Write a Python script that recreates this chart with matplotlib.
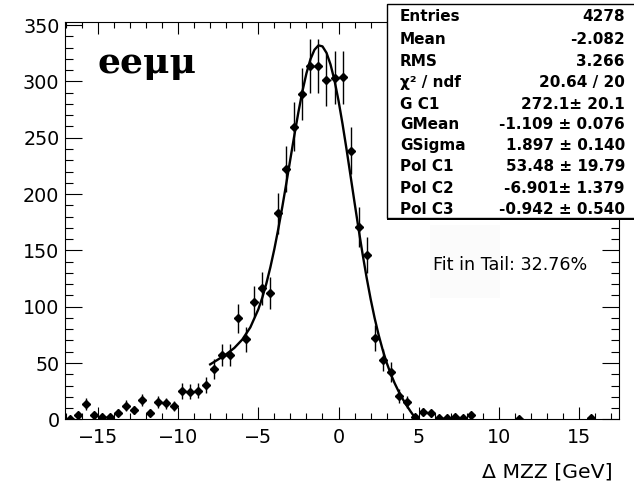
import matplotlib
matplotlib.use('Agg')
import matplotlib.pyplot as plt
from matplotlib.patches import Rectangle
from matplotlib.ticker import MultipleLocator

# histogram bins (centres, 0.5 GeV wide) and contents
bin_x = [-16.75, -16.25, -15.75, -15.25, -14.75, -14.25, -13.75, -13.25, -12.75, -12.25,
         -11.75, -11.25, -10.75, -10.25, -9.75, -9.25, -8.75, -8.25, -7.75, -7.25,
         -6.75, -6.25, -5.75, -5.25, -4.75, -4.25, -3.75, -3.25, -2.75, -2.25,
         -1.75, -1.25, -0.75, -0.25, 0.25, 0.75, 1.25, 1.75, 2.25, 2.75,
         3.25, 3.75, 4.25, 4.75, 5.25, 5.75, 6.25, 6.75, 7.25, 7.75,
         8.25, 11.25, 15.75]
counts = [0.3, 3.8, 13.6, 3.8, 1.8, 2.4, 5.9, 12.1, 8.3, 17.2,
          5.9, 15.7, 14.2, 11.8, 25.2, 24.6, 25.5, 30.5, 44.7, 57.1,
          57.1, 89.7, 71.0, 104.5, 116.3, 112.5, 183.0, 222.3, 259.9, 288.9,
          313.8, 313.8, 301.3, 303.4, 303.7, 238.5, 171.0, 146.0, 71.9, 52.7,
          42.3, 21.0, 15.1, 1.8, 6.8, 5.3, 0.9, 1.5, 2.4, 0.9,
          3.8, 0.3, 1.0]
errors = [0.7, 2.6, 5.0, 2.6, 1.8, 2.1, 3.3, 4.7, 3.9, 5.6,
          3.3, 5.3, 5.1, 4.6, 6.8, 6.7, 6.8, 7.5, 9.0, 10.2,
          10.2, 12.8, 11.4, 13.8, 14.6, 14.3, 18.3, 20.1, 21.8, 22.9,
          23.9, 23.9, 23.4, 23.5, 23.5, 20.8, 17.7, 16.3, 11.4, 9.8,
          8.8, 6.2, 5.2, 1.8, 3.5, 3.1, 1.3, 1.7, 2.1, 1.3,
          2.6, 0.7, 1.4]

# fitted curve (gauss + pol2)
fit_x = [-8, -7.5, -7, -6.5, -6, -5.5, -5, -4.75, -4.5, -4.25, -4, -3.75, -3.5, -3.25,
         -3, -2.75, -2.5, -2.25, -2, -1.75, -1.5, -1.25, -1, -0.75, -0.5, -0.25, 0,
         0.25, 0.5, 0.75, 1, 1.25, 1.5, 1.75, 2, 2.25, 2.5, 2.75, 3, 3.25, 3.5, 3.75,
         4, 4.25, 4.5, 4.8]
fit_y = [48.8, 53.2, 57.8, 63.3, 70.8, 81.6, 97.6, 108.1, 120.5, 134.9, 151.2, 169.4, 189.0, 209.9,
         231.3, 252.5, 272.8, 291.3, 307.2, 319.7, 328.1, 332.0, 331.1, 325.4, 315.1, 300.8, 282.9,
         262.2, 239.7, 216.1, 192.3, 169.0, 146.7, 125.9, 106.9, 89.9, 74.9, 61.8, 50.3, 40.5, 32.0, 24.6,
         18.05, 12.2, 6.8, 0.8]

stat_names = ['Entries', 'Mean', 'RMS', 'χ² / ndf', 'G C1', 'GMean', 'GSigma',
              'Pol C1', 'Pol C2', 'Pol C3']
stat_values = ['4278', '-2.082', '3.266', '20.64 / 20', '272.1± 20.1', '-1.109 ± 0.076',
               '1.897 ± 0.140', '53.48 ± 19.79', '-6.901± 1.379', '-0.942 ± 0.540']

plt.rcParams['font.family'] = ['DejaVu Sans']

fig = plt.figure(figsize=(6.34, 4.86), dpi=100)
ax = fig.add_axes([0.1025, 0.1372, 0.8743, 0.8181])

ax.errorbar(bin_x, counts, yerr=errors, xerr=0.25, fmt='D', color='black',
            markersize=4.4, elinewidth=1.0, capsize=0, zorder=3)
ax.plot(fit_x, fit_y, color='black', lw=1.7, zorder=4)

ax.set_xlim(-17.05, 17.5)
ax.set_ylim(0, 353)
ax.xaxis.set_major_locator(MultipleLocator(5))
ax.xaxis.set_minor_locator(MultipleLocator(1))
ax.yaxis.set_major_locator(MultipleLocator(50))
ax.yaxis.set_minor_locator(MultipleLocator(10))

ax.tick_params(axis='both', which='both', direction='in', top=True, right=True,
               width=0.8, labelsize=13.8)
ax.tick_params(axis='x', which='major', length=8.6, pad=6)
ax.tick_params(axis='x', which='minor', length=4.3)
ax.tick_params(axis='y', which='major', length=12, pad=4)
ax.tick_params(axis='y', which='minor', length=5.8)
for s in ax.spines.values():
    s.set_linewidth(0.8)

ax.text(0.058, 0.87, 'eeμμ', transform=ax.transAxes, fontsize=26, fontweight='bold',
        family='DejaVu Serif', va='baseline', ha='left')

fig.text(0.967, 0.0288, 'Δ MZZ [GeV]', fontsize=14.7, ha='right', va='center')

# faint pave behind the tail text
fig.patches.append(Rectangle((0.678, 0.387), 0.110, 0.150, transform=fig.transFigure,
                             facecolor='#fbfbfb', edgecolor='none', zorder=1))
fig.text(0.683, 0.4547, 'Fit in Tail: 32.76%', fontsize=12.6, ha='left', va='center')

# stats box
fig.patches.append(Rectangle((0.6104, 0.5474), 0.45, 0.444, transform=fig.transFigure,
                             facecolor='black', edgecolor='none', zorder=1))
fig.patches.append(Rectangle((0.6104, 0.5514), 0.45, 0.4403, transform=fig.transFigure,
                             facecolor='white', edgecolor='black', lw=1.0, zorder=1))
row_y = [16.7, 39.3, 61.0, 82.7, 104.3, 124.3, 145.7, 166.7, 188.3, 209.3]
for name, val, yp in zip(stat_names, stat_values, row_y):
    fy = 1 - yp / 486
    fig.text(0.631, fy, name, fontsize=11, fontweight='bold', ha='left', va='center')
    fig.text(0.9858, fy, val, fontsize=11, fontweight='bold', ha='right', va='center')

fig.savefig('out.png', dpi=100)
